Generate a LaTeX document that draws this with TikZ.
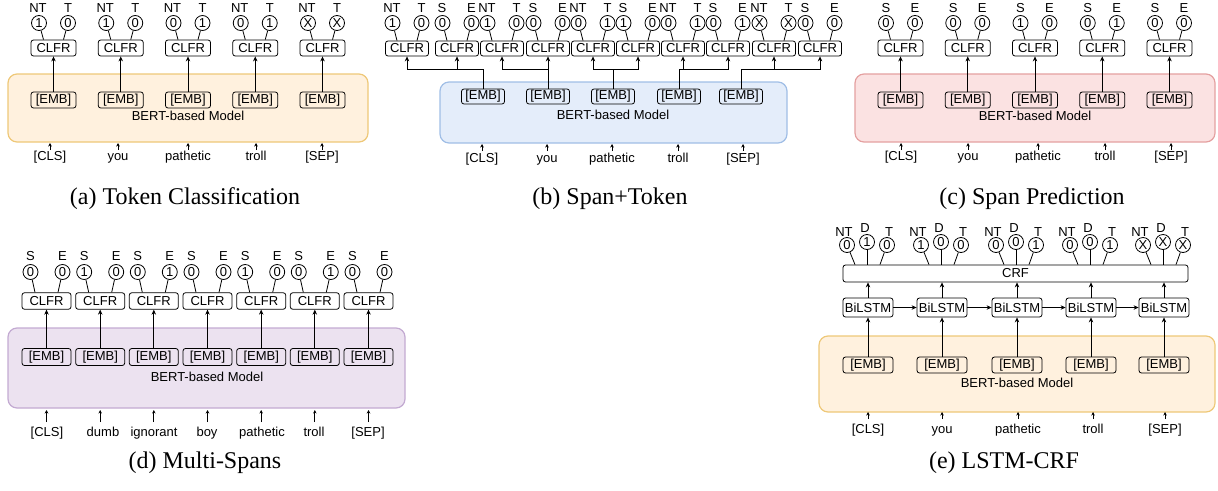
\documentclass[tikz,border=0pt]{standalone}
\usepackage{fontspec}
\setmainfont{Liberation Sans}
\newfontfamily\capfont{Liberation Serif}
\usetikzlibrary{arrows.meta}
\definecolor{orF}{RGB}{255,241,222}
\definecolor{orD}{RGB}{238,200,120}
\definecolor{blF}{RGB}{228,237,250}
\definecolor{blD}{RGB}{160,190,230}
\definecolor{pkF}{RGB}{251,226,226}
\definecolor{pkD}{RGB}{228,160,160}
\definecolor{puF}{RGB}{236,226,240}
\definecolor{puD}{RGB}{195,170,210}
\newcommand\dfont{\fontsize{13}{15}\selectfont}
\begin{document}
\begin{tikzpicture}[x=1pt,y=-1pt,
  box/.style={draw, line width=0.8pt, rounded corners=2.5pt, inner sep=0pt, minimum height=16pt, minimum width=45pt, font=\dfont},
  circ/.style={draw, line width=0.8pt, circle, inner sep=0pt, minimum size=15pt, font=\dfont},
  lbl/.style={inner sep=0pt, anchor=base, font=\dfont},
  tok/.style={inner sep=0pt, font=\dfont, text height=9.5pt, text depth=2.5pt},
  bert/.style={line width=1.2pt, rounded corners=9pt, inner sep=0pt},
  blab/.style={inner sep=0pt, font=\dfont},
  arr/.style={line width=0.8pt, -{Stealth[length=5pt,width=4.5pt]}},
  tarr/.style={line width=0.8pt, -{Stealth[length=3.5pt,width=3.5pt]}},
  ln/.style={line width=0.8pt},
  captxt/.style={inner sep=0pt, font=\capfont\fontsize{24}{28}\selectfont},
]
\useasboundingbox (0,0) rectangle (1218,490);

% ---------------- (a) Token Classification
\node[bert, draw=orD, fill=orF, minimum width=360pt, minimum height=68pt] (a-bert) at (188,108) {};
\node[blab] (a-bl) at (188,116) {BERT-based Model};
\foreach \i/\x/\tx/\tn/\va/\vb in {1/53.5/50/{[CLS]}/1/0, 2/120.75/118/you/1/0, 3/188/188/pathetic/0/1, 4/255.25/256/troll/0/1, 5/322.5/322/{[SEP]}/X/X}{
  \node[box] (a-c\i) at (\x,48) {CLFR};
  \node[box] (a-e\i) at (\x,100) {[EMB]};
  \node[circ] (a-p\i) at (\x-14.5,23) {\va};
  \node[circ] (a-q\i) at (\x+14.5,23) {\vb};
  \node[lbl] (a-lp\i) at (\x-15.5,12) {NT};
  \node[lbl] (a-lq\i) at (\x+14.5,12) {T};
  \draw[ln] (a-p\i) -- ([xshift=-10pt]a-c\i.north);
  \draw[ln] (a-q\i) -- ([xshift=10pt]a-c\i.north);
  \draw[arr] (a-e\i) -- (a-c\i);
  \node[tok] (a-t\i) at (\tx,157) {\tn};
  \coordinate (a-v\i) at (\tx,150);
  \coordinate (a-u\i) at (\tx,143);
  \draw[tarr] (a-v\i) -- (a-u\i);
}
\node[captxt] (cap-a) at (185,199) {(a) Token Classification};

% ---------------- (b) Span+Token
\node[bert, draw=blD, fill=blF, minimum width=347pt, minimum height=61pt] (b-bert) at (613.5,112.5) {};
\node[blab] (b-bl) at (613,115) {BERT-based Model};
\foreach \k/\x/\la/\lb/\va/\vb in {1/407/NT/T/1/0, 2/457/S/E/0/0, 3/502/NT/T/1/0, 4/548/S/E/0/0, 5/593/NT/T/0/1, 6/638/S/E/1/0, 7/683/NT/T/0/1, 8/728/S/E/0/1, 9/774/NT/T/X/X, 10/820/S/E/0/0}{
  \node[box, minimum width=43pt, minimum height=15pt] (b-c\k) at (\x,48.5) {CLFR};
  \node[circ] (b-p\k) at (\x-14.5,23) {\va};
  \node[circ] (b-q\k) at (\x+14.5,23) {\vb};
  \node[lbl] (b-lp\k) at (\x-15,12) {\la};
  \node[lbl] (b-lq\k) at (\x+14.5,12) {\lb};
  \draw[ln] (b-p\k) -- ([xshift=-10pt]b-c\k.north);
  \draw[ln] (b-q\k) -- ([xshift=10pt]b-c\k.north);
}
\foreach \i/\x/\tx/\tn/\ka/\kb in {1/483/482/{[CLS]}/1/2, 2/548/547/you/3/4, 3/613/612/pathetic/5/6, 4/679/678/troll/7/8, 5/741/743/{[SEP]}/9/10}{
  \node[box, minimum width=43pt, minimum height=15pt] (b-e\i) at (\x,96.5) {[EMB]};
  \coordinate (b-j\i) at (\x,69);
  \draw[arr] (b-e\i.north) -- (b-j\i) -| (b-c\ka.south);
  \draw[arr] (b-j\i) -| (b-c\kb.south);
  \node[tok] (b-t\i) at (\tx,159) {\tn};
  \coordinate (b-v\i) at (\tx,151);
  \coordinate (b-u\i) at (\tx,144);
  \draw[tarr] (b-v\i) -- (b-u\i);
}
\node[captxt] (cap-b) at (610,199) {(b) Span+Token};

% ---------------- (c) Span Prediction
\node[bert, draw=pkD, fill=pkF, minimum width=360pt, minimum height=68pt] (c-bert) at (1035,108) {};
\node[blab] (c-bl) at (1035,116) {BERT-based Model};
\foreach \i/\x/\tx/\tn/\va/\vb in {1/900.5/901/{[CLS]}/0/0, 2/967.75/968/you/0/0, 3/1035/1038/pathetic/1/0, 4/1102.25/1105/troll/0/1, 5/1169.5/1171/{[SEP]}/0/0}{
  \node[box] (c-c\i) at (\x,48) {CLFR};
  \node[box] (c-e\i) at (\x,100) {[EMB]};
  \node[circ] (c-p\i) at (\x-14.5,23) {\va};
  \node[circ] (c-q\i) at (\x+14.5,23) {\vb};
  \node[lbl] (c-lp\i) at (\x-14.5,12) {S};
  \node[lbl] (c-lq\i) at (\x+14.5,12) {E};
  \draw[ln] (c-p\i) -- ([xshift=-10pt]c-c\i.north);
  \draw[ln] (c-q\i) -- ([xshift=10pt]c-c\i.north);
  \draw[arr] (c-e\i) -- (c-c\i);
  \node[tok] (c-t\i) at (\tx,157) {\tn};
  \coordinate (c-v\i) at (\tx,150);
  \coordinate (c-u\i) at (\tx,143);
  \draw[tarr] (c-v\i) -- (c-u\i);
}
\node[captxt] (cap-c) at (1032,199) {(c) Span Prediction};

% ---------------- (d) Multi-Spans
\node[bert, draw=puD, fill=puF, minimum width=397pt, minimum height=80pt] (d-bert) at (206.5,368) {};
\node[blab] (d-bl) at (207,377) {BERT-based Model};
\foreach \i/\x/\tx/\tn/\va/\vb in {1/46.5/47/{[CLS]}/0/0, 2/100.2/103/dumb/1/0, 3/153.8/154/ignorant/0/1, 4/207.5/207/boy/0/0, 5/261.2/262/pathetic/1/0, 6/314.8/314/troll/0/1, 7/368.5/368/{[SEP]}/0/0}{
  \node[box, minimum width=49pt, minimum height=16.5pt] (d-c\i) at (\x,301) {CLFR};
  \node[box, minimum width=49pt, minimum height=17pt] (d-e\i) at (\x,357) {[EMB]};
  \node[circ] (d-p\i) at (\x-16,272) {\va};
  \node[circ] (d-q\i) at (\x+16,272) {\vb};
  \node[lbl] (d-lp\i) at (\x-16,260) {S};
  \node[lbl] (d-lq\i) at (\x+16,260) {E};
  \draw[ln] (d-p\i) -- ([xshift=-11.5pt]d-c\i.north);
  \draw[ln] (d-q\i) -- ([xshift=11.5pt]d-c\i.north);
  \draw[arr] (d-e\i) -- (d-c\i);
  \node[tok] (d-t\i) at (\tx,433) {\tn};
  \coordinate (d-v\i) at (\x,422);
  \coordinate (d-u\i) at (\x,410);
  \draw[tarr] (d-v\i) -- (d-u\i);
}
\node[captxt] (cap-d) at (205,463) {(d) Multi-Spans};

% ---------------- (e) LSTM-CRF
\node[bert, draw=orD, fill=orF, minimum width=396pt, minimum height=76pt] (e-bert) at (1017,374) {};
\node[blab] (e-bl) at (1017,383) {BERT-based Model};
\node[box, minimum width=345pt, minimum height=17pt] (e-crf) at (1015.5,273.5) {CRF};
\foreach \i/\x/\tx/\tn/\va/\vb/\vc in {1/868/868/{[CLS]}/0/1/0, 2/942/942/you/1/0/0, 3/1017/1018/pathetic/0/0/1, 4/1091/1093/troll/0/0/1, 5/1164/1165/{[SEP]}/X/X/X}{
  \node[box, minimum width=50pt, minimum height=19pt] (e-b\i) at (\x,307.5) {BiLSTM};
  \node[box, minimum width=50pt, minimum height=16pt] (e-e\i) at (\x,365) {[EMB]};
  \node[circ] (e-p\i) at (\x-21,245) {\va};
  \node[circ] (e-q\i) at (\x-1,242) {\vb};
  \node[circ] (e-r\i) at (\x+19,245) {\vc};
  \node[lbl] (e-lp\i) at (\x-24,236) {NT};
  \node[lbl] (e-lq\i) at (\x-3,232) {D};
  \node[lbl] (e-lr\i) at (\x+21,236) {T};
  \coordinate (e-m\i) at (e-b\i.north |- e-crf.north);
  \draw[ln] (e-p\i) -- ([xshift=-13pt]e-m\i);
  \draw[ln] (e-q\i) -- ([xshift=-1pt]e-m\i);
  \draw[ln] (e-r\i) -- ([xshift=12pt]e-m\i);
  \draw[arr] (e-b\i.north) -- (e-b\i.north |- e-crf.south);
  \draw[arr] (e-e\i) -- (e-b\i);
  \node[tok] (e-t\i) at (\tx,430) {\tn};
  \coordinate (e-v\i) at (\tx,419);
  \coordinate (e-u\i) at (\tx,412);
  \draw[tarr] (e-v\i) -- (e-u\i);
}
\foreach \i/\j in {1/2,2/3,3/4,4/5}{
  \draw[arr] (e-b\i.east) -- (e-b\j.west);
}
\node[captxt] (cap-e) at (1004,463) {(e) LSTM-CRF};
\end{tikzpicture}
\end{document}
